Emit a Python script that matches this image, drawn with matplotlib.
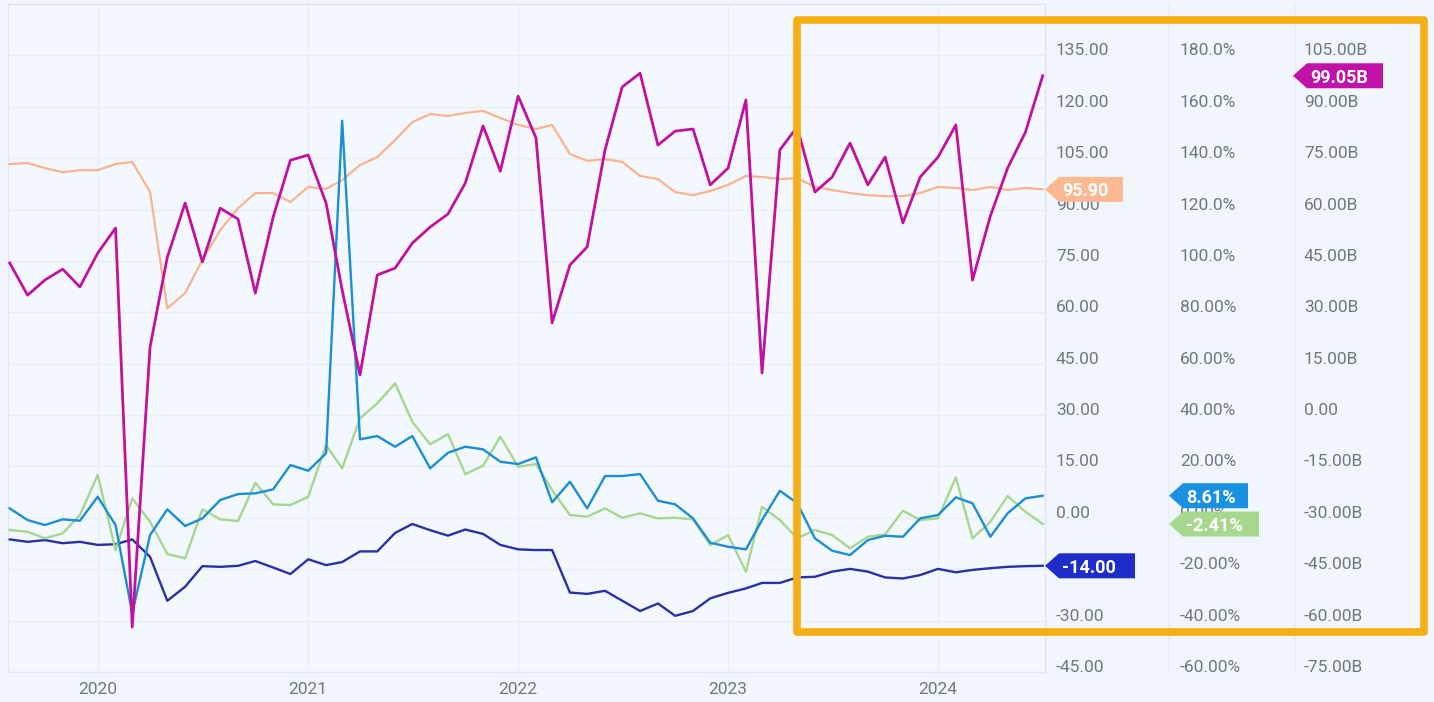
import matplotlib
matplotlib.use('Agg')
import matplotlib.pyplot as plt
import matplotlib.transforms as mtransforms
from matplotlib.patches import Polygon, Rectangle
from matplotlib.lines import Line2D
import pandas as pd
import datetime as dt

# ---------------- data ----------------
dates = pd.date_range('2019-08-01', periods=60, freq='MS')
year_ticks = [dt.datetime(y, 1, 1) for y in (2020, 2021, 2022, 2023, 2024)]
year_labels = ['2020', '2021', '2022', '2023', '2024']

# magenta series (billions, right-most axis)
magenta_b = [44.4, 35.0, 39.4, 42.6, 37.4, 47.3, 54.6, -61.9, 19.9, 46.1,
             61.9, 44.7, 60.4, 57.2, 35.6, 57.8, 74.4, 75.9, 61.9, 36.5,
             11.7, 40.9, 42.9, 50.2, 54.9, 58.7, 67.7, 84.4, 71.2, 93.1,
             80.9, 26.9, 43.8, 49.1, 77.4, 95.8, 99.8, 78.8, 82.9, 83.5,
             67.2, 72.1, 92.0, 12.3, 77.4, 84.1, 65.1, 69.5, 79.4, 67.2,
             75.3, 56.1, 69.5, 75.3, 84.7, 39.4, 58.1, 72.1, 82.6, 99.05]

# peach series (left axis)
peach = [103.3, 103.6, 102.1, 100.9, 101.5, 101.5, 103.3, 103.9, 95.1, 61.2,
         65.6, 75.3, 84.0, 90.4, 94.8, 94.8, 92.2, 96.6, 96.0, 98.6,
         103.0, 105.3, 110.3, 115.5, 117.9, 117.3, 118.2, 118.8, 116.7, 114.7,
         113.5, 114.7, 106.2, 104.2, 104.7, 103.9, 99.8, 98.9, 95.1, 94.2,
         95.4, 97.2, 99.8, 99.5, 98.9, 99.2, 96.6, 95.7, 94.8, 94.2,
         93.9, 93.9, 94.8, 96.6, 96.3, 95.7, 96.6, 95.7, 96.3, 95.90]

# navy series (left axis)
navy = [-6.3, -7.0, -6.5, -7.4, -7.0, -7.9, -7.7, -6.3, -11.4, -24.2,
        -20.1, -14.1, -14.3, -14.0, -12.6, -14.5, -16.4, -12.1, -13.8, -12.9,
        -9.8, -9.8, -4.4, -1.8, -3.6, -5.2, -3.4, -4.7, -7.9, -9.2,
        -9.4, -9.4, -21.8, -22.2, -21.3, -24.2, -27.2, -25.0, -28.6, -27.2,
        -23.5, -21.9, -20.6, -19.0, -19.0, -17.4, -17.2, -15.7, -14.9, -15.7,
        -17.4, -17.7, -16.7, -14.9, -15.9, -15.2, -14.7, -14.3, -14.1, -14.00]

# blue series (percent axis)
blue_pct = [3.70, -0.86, -2.80, -0.58, -1.13, 8.21, -2.80, -37.17, -6.70, 3.31,
            -3.19, -0.19, 6.93, 9.26, 9.54, 11.09, 20.55, 18.33, 25.11, 154.56,
            30.56, 31.84, 27.68, 31.84, 19.27, 25.34, 27.68, 26.67, 21.84, 20.94,
            23.55, 6.03, 14.05, 3.70, 16.27, 16.27, 17.05, 6.66, 5.25, -0.19,
            -9.69, -11.25, -12.26, -0.86, 10.55, 5.76, -7.98, -12.81, -14.48, -8.64,
            -6.97, -7.36, -0.19, 1.09, 7.98, 5.65, -7.36, 1.75, 7.59, 8.61]

# green series (percent axis)
green_pct = [-4.75, -5.41, -7.98, -6.03, 1.09, 16.66, -12.54, 7.59, -1.52, -14.09,
             -15.76, 3.31, -0.58, -1.25, 13.66, 5.25, 4.98, 8.21, 28.34, 19.27,
             38.73, 44.57, 52.35, 37.40, 28.61, 32.62, 17.05, 20.28, 31.57, 19.89,
             20.94, 10.82, 1.09, 0.43, 3.70, 0.04, 1.75, -0.19, 0.04, -0.58,
             -10.59, -6.70, -20.98, 4.32, -0.86, -7.98, -4.75, -6.70, -11.87, -7.36,
             -6.42, 2.76, -0.86, -0.19, 15.77, -7.98, -1.52, 8.49, 2.37, -2.41]

left_ticks = list(range(-45, 136, 15))
pct_ticks = list(range(-60, 181, 20))
b_ticks = list(range(-75, 106, 15))

# ---------------- style ----------------
W, H = 1434, 702
BG = '#f0f6fc'
AXBG = '#f2f8fe'
GRID = '#e8eef5'
TXT = '#6f7782'
C_MAG = '#c0129f'
C_PEACH = '#f9b48e'
C_NAVY = '#2a31a4'
C_BLUE = '#1b8fd2'
C_GREEN = '#a9d68f'
FONT = ['Roboto', 'DejaVu Sans']
plt.rcParams['font.family'] = FONT

fig = plt.figure(figsize=(W / 100, H / 100), dpi=100, facecolor=BG)
L, R, T, B = 8, 1045, 4, 672
ax = fig.add_axes([L / W, 1 - B / H, (R - L) / W, (B - T) / H])
ax.set_facecolor(AXBG)
ax_pct = ax.twinx()
ax_b = ax.twinx()

ax.set_ylim(-45, 150)
ax_pct.set_ylim(-60, 200)
ax_b.set_ylim(-75, 120)
ax.set_xlim(dt.datetime(2019, 7, 29), dt.datetime(2024, 7, 5))

# gridlines
ax.set_xticks(year_ticks, labels=year_labels)
ax.grid(axis='both', color=GRID, linewidth=1.0)
ax.set_axisbelow(True)

# lines
ax.plot(dates, peach, color=C_PEACH, lw=1.6, zorder=3)
ax.plot(dates, navy, color=C_NAVY, lw=1.7, zorder=4)
ax_pct.plot(dates, green_pct, color=C_GREEN, lw=1.7, zorder=3)
ax_pct.plot(dates, blue_pct, color=C_BLUE, lw=1.7, zorder=4)
ax_b.plot(dates, magenta_b, color=C_MAG, lw=2.0, zorder=5)

# spines
for s in ax.spines.values():
    s.set_color('#dfe6ee')
    s.set_linewidth(1.0)
for a in (ax_pct, ax_b):
    for s in a.spines.values():
        s.set_visible(False)

# tick labels
pad_pt = 11 * 0.72
ax.yaxis.set_ticks_position('right')
ax.set_yticks(left_ticks, labels=[f'{v:.2f}' for v in left_ticks])
ax_pct.set_yticks(pct_ticks, labels=[(f'{v:.1f}%' if v >= 100 else f'{v:.2f}%') for v in pct_ticks])
ax_b.set_yticks(b_ticks, labels=[('0.00' if v == 0 else f'{v:.2f}B') for v in b_ticks])
ax_pct.spines['right'].set_position(('axes', (1169 - L) / (R - L)))
ax_b.spines['right'].set_position(('axes', (1293 - L) / (R - L)))
for a in (ax, ax_pct, ax_b):
    a.tick_params(axis='y', length=0, pad=pad_pt, labelsize=12.5, labelcolor=TXT,
                  left=False, labelleft=False, right=False, labelright=True)
    for lab in a.get_yticklabels():
        lab.set_verticalalignment('baseline')
ax.tick_params(axis='x', length=0, pad=7.5, labelsize=12.5, labelcolor=TXT)

# column separators
for xs in (1168, 1295):
    fig.add_artist(Line2D([xs / W, xs / W], [1 - B / H, 1 - T / H], color='#e6ecf3', lw=1.0,
                          transform=fig.transFigure, zorder=0))

# badges
ident = mtransforms.IdentityTransform()


def badge(axis, val, text, color, tip_x, end_x):
    yc = axis.transData.transform((0, val))[1]
    h = 12.5
    body = tip_x + 14
    pts = [(tip_x, yc), (body, yc + h), (end_x, yc + h), (end_x, yc - h), (body, yc - h)]
    fig.add_artist(Polygon(pts, closed=True, facecolor=color, edgecolor='none',
                           transform=ident, zorder=10))
    fig.text((tip_x + 17) / W, yc / H, text, color='white', fontsize=13, fontweight='bold',
             ha='left', va='center_baseline', zorder=11, family=FONT)


badge(ax, peach[-1], f'{peach[-1]:.2f}', '#fbb991', 1045, 1123)
badge(ax, navy[-1], f'{navy[-1]:.2f}', '#1e2dc8', 1045, 1135)
badge(ax_pct, green_pct[-1], f'{green_pct[-1]:.2f}%', '#a6d88e', 1169, 1259)
badge(ax_pct, blue_pct[-1], f'{blue_pct[-1]:.2f}%', '#1990e0', 1169, 1248)
badge(ax_b, magenta_b[-1], f'{magenta_b[-1]:.2f}B', '#c011a8', 1293, 1383)

# highlight frame
fig.add_artist(Rectangle((797, H - 632), 1424 - 797, 632 - 20, fill=False,
                         edgecolor='#f5ae13', linewidth=5.5, joinstyle='round',
                         transform=ident, zorder=12))

fig.savefig('out.png', dpi=100, facecolor=BG)
